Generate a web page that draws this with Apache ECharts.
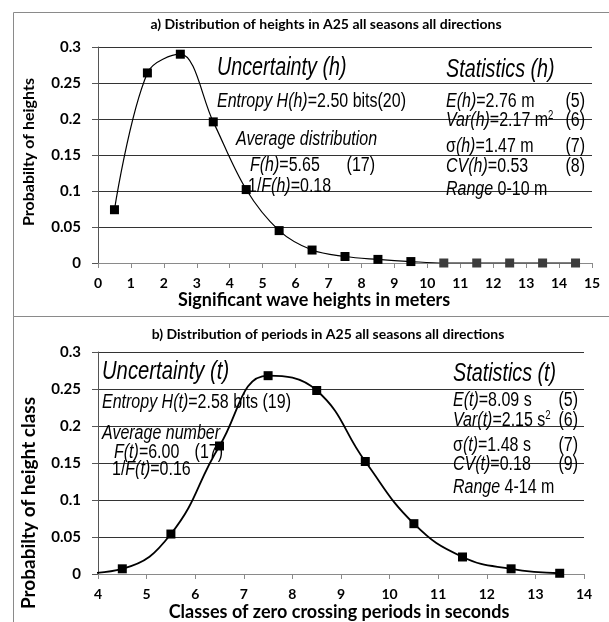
<!DOCTYPE html>
<html><head><meta charset="utf-8">
<script src="https://cdn.jsdelivr.net/npm/echarts@6/dist/echarts.min.js"></script>
<style>html,body{margin:0;padding:0;background:#fff}#c{width:609px;height:622px}</style>
</head><body><div id="c"></div>
<script>
// ---- data ----
const heightClasses = [0.5, 1.5, 2.5, 3.5, 4.5, 5.5, 6.5, 7.5, 8.5, 9.5, 10.5, 11.5, 12.5, 13.5, 14.5];
const heightProb    = [0.074, 0.264, 0.290, 0.196, 0.102, 0.045, 0.018, 0.009, 0.005, 0.002, 0, 0, 0, 0, 0];
const periodClasses = [3.5, 4.5, 5.5, 6.5, 7.5, 8.5, 9.5, 10.5, 11.5, 12.5, 13.5];
const periodProb    = [0, 0.007, 0.054, 0.173, 0.268, 0.248, 0.152, 0.068, 0.023, 0.007, 0.001];

const titleA = 'a) Distribution of heights in A25 all seasons all directions';
const titleB = 'b) Distribution of periods in A25 all seasons all directions';
const xNameA = 'Significant wave heights in meters';
const yNameA = 'Probabilty of heights';
const xNameB = 'Classes of zero crossing periods in seconds';
const yNameB = 'Probabilty of height class';

const notesA = [
  '{i|Uncertainty (h)}',
  '{i|Entropy H(h)}{n|=2.50 bits(20)}',
  '{i|Average distribution}',
  '{i|F(h)}{n|=5.65}', '(17)',
  '{n|1/}{i|F(h)}{n|=0.18}',
  '{i|Statistics (h)}',
  '{i|E(h)}{n|=2.76 m}', '(5)',
  '{i|Var(h)}{n|=2.17 m}{s|2}', '(6)',
  '{n|σ}{i|(h)}{n|=1.47 m}', '(7)',
  '{i|CV(h)}{n|=0.53}', '(8)',
  '{i|Range}{n| 0-10 m}'
];
const notesB = [
  '{i|Uncertainty (t)}',
  '{i|Entropy H(t)}{n|=2.58 bits (19)}',
  '{i|Average number}',
  '{i|F(t)}{n|=6.00}', '(17)',
  '{n|1/}{i|F(t)}{n|=0.16}',
  '{i|Statistics (t)}',
  '{i|E(t)}{n|=8.09 s}', '(5)',
  '{i|Var(t)}{n|=2.15 s}{s|2}', '(6)',
  '{n|σ}{i|(t)}{n|=1.48 s}', '(7)',
  '{i|CV(t)}{n|=0.18}', '(9)',
  '{i|Range}{n| 4-14 m}'
];

// ---- helpers ----
const AF = 'Liberation Sans';
const BF = 'Lato';
function rich(sz) {
  return {
    i: {fontFamily: AF, fontStyle: 'italic', fontSize: sz, fill: '#000'},
    n: {fontFamily: AF, fontSize: sz, fill: '#000'},
    s: {fontFamily: AF, fontSize: Math.round(sz * 0.62), fill: '#000', verticalAlign: 'top'}
  };
}
function txt(x, y, text, sz, align, sx) {
  return {type: 'text', x: x, y: y, scaleX: sx || 0.8, z: 20,
    style: {text: text, fontFamily: AF, fontSize: sz, fill: '#000',
      align: align || 'left', verticalAlign: 'middle', rich: rich(sz)}};
}
function vname(x, y, text, sz) {
  return {type: 'text', x: x, y: y, rotation: Math.PI / 2, z: 20,
    style: {text: text, fontFamily: BF, fontWeight: 'bold', fontSize: sz, fill: '#000',
      align: 'center', verticalAlign: 'middle'}};
}
const S = 20, L = 25, LX = 0.79;
const graphics = [
  {type: 'rect', shape: {x: 13.5, y: 12.5, width: 640, height: 304}, style: {fill: 'none', stroke: '#8a8a8a', lineWidth: 1}, z: 0},
  {type: 'rect', shape: {x: 13.5, y: 316.5, width: 640, height: 330}, style: {fill: 'none', stroke: '#8a8a8a', lineWidth: 1}, z: 0},
  vname(29, 152, yNameA, 16),
  vname(29, 503, yNameB, 19),
  // chart a
  txt(217, 68, notesA[0], L, 'left', LX),
  txt(217, 101, notesA[1], S),
  txt(236, 139, notesA[2], S),
  txt(250, 165, notesA[3], S), txt(375, 165, notesA[4], S, 'right'),
  txt(248, 186, notesA[5], S),
  txt(446, 70, notesA[6], L, 'left', LX),
  txt(446, 101, notesA[7], S), txt(585, 101, notesA[8], S, 'right'),
  txt(446, 120, notesA[9], S), txt(585, 120, notesA[10], S, 'right'),
  txt(446, 146, notesA[11], S), txt(585, 146, notesA[12], S, 'right'),
  txt(446, 166, notesA[13], S), txt(585, 166, notesA[14], S, 'right'),
  txt(446, 189, notesA[15], S),
  // chart b
  txt(102, 372, notesB[0], L, 'left', 0.81),
  txt(102, 402, notesB[1], S),
  txt(102, 433, notesB[2], S),
  txt(114, 452, notesB[3], S), txt(223, 452, notesB[4], S, 'right'),
  txt(112, 469, notesB[5], S),
  txt(453, 374, notesB[6], L, 'left', LX),
  txt(453, 400, notesB[7], S), txt(578, 400, notesB[8], S, 'right'),
  txt(453, 420, notesB[9], S), txt(578, 420, notesB[10], S, 'right'),
  txt(453, 445, notesB[11], S), txt(578, 445, notesB[12], S, 'right'),
  txt(453, 464, notesB[13], S), txt(578, 464, notesB[14], S, 'right'),
  txt(453, 487, notesB[15], S)
];

const nameStyle = {fontFamily: BF, fontWeight: 'bold', fontSize: 18, color: '#000'};

function yAxis(gi) {
  return {gridIndex: gi, type: 'value', min: 0, max: 0.3, interval: 0.05,
    axisLine: {show: true, lineStyle: {color: '#555'}},
    axisTick: {show: true, length: 6, lineStyle: {color: '#555'}},
    axisLabel: {margin: 17, fontFamily: BF, fontWeight: 'bold', fontSize: 15, color: '#000'},
    splitLine: {show: true, lineStyle: {color: '#333'}}};
}
function xAxis(gi, min, max, name, gap, pad) {
  return {gridIndex: gi, type: 'value', min: min, max: max, interval: 1,
    axisLine: {show: true, onZero: false, lineStyle: {color: '#8a8a8a'}},
    axisTick: {show: true, length: 5, lineStyle: {color: '#8a8a8a'}},
    axisLabel: {margin: 13, fontFamily: BF, fontWeight: 'bold', fontSize: 14, color: '#000'},
    splitLine: {show: false},
    name: name, nameLocation: 'middle', nameGap: gap,
    nameTextStyle: Object.assign({padding: pad}, nameStyle)};
}

const chart = echarts.init(document.getElementById('c'), null, {renderer: 'canvas'});
chart.setOption({
  animation: false,
  backgroundColor: '#fff',
  title: [
    {text: titleA, left: 326, top: 17, textAlign: 'center', padding: 0,
      textStyle: {fontFamily: BF, fontWeight: 'bold', fontSize: 14, color: '#000'}},
    {text: titleB, left: 328, top: 327, textAlign: 'center', padding: 0,
      textStyle: {fontFamily: BF, fontWeight: 'bold', fontSize: 14, color: '#000'}}
  ],
  grid: [
    {left: 98, top: 47, width: 494, height: 216},
    {left: 98, top: 352, width: 486, height: 224}
  ],
  xAxis: [
    xAxis(0, 0, 15, xNameA, 27, [0, 62, 0, 0]),
    xAxis(1, 4, 14, xNameB, 29, [0, 4, 0, 0])
  ],
  yAxis: [yAxis(0), yAxis(1)],
  series: [
    {type: 'line', xAxisIndex: 0, yAxisIndex: 0, smooth: 0.35,
      symbol: 'rect', symbolSize: 9,
      lineStyle: {color: '#000', width: 1.2},
      itemStyle: {color: '#000'},
      data: heightClasses.map((x, i) => ({value: [x, heightProb[i]],
        itemStyle: {color: heightProb[i] === 0 ? '#3c3c3c' : '#000'}})),
      z: 5},
    {type: 'line', xAxisIndex: 1, yAxisIndex: 1, smooth: 0.45, clip: true,
      symbol: 'rect', symbolSize: 9,
      lineStyle: {color: '#000', width: 1.8},
      itemStyle: {color: '#000'},
      data: periodClasses.map((x, i) => (x < 4 ? {value: [x, periodProb[i]], symbol: 'none'} : [x, periodProb[i]])),
      z: 5}
  ],
  graphic: graphics
});
</script>
</body></html>
